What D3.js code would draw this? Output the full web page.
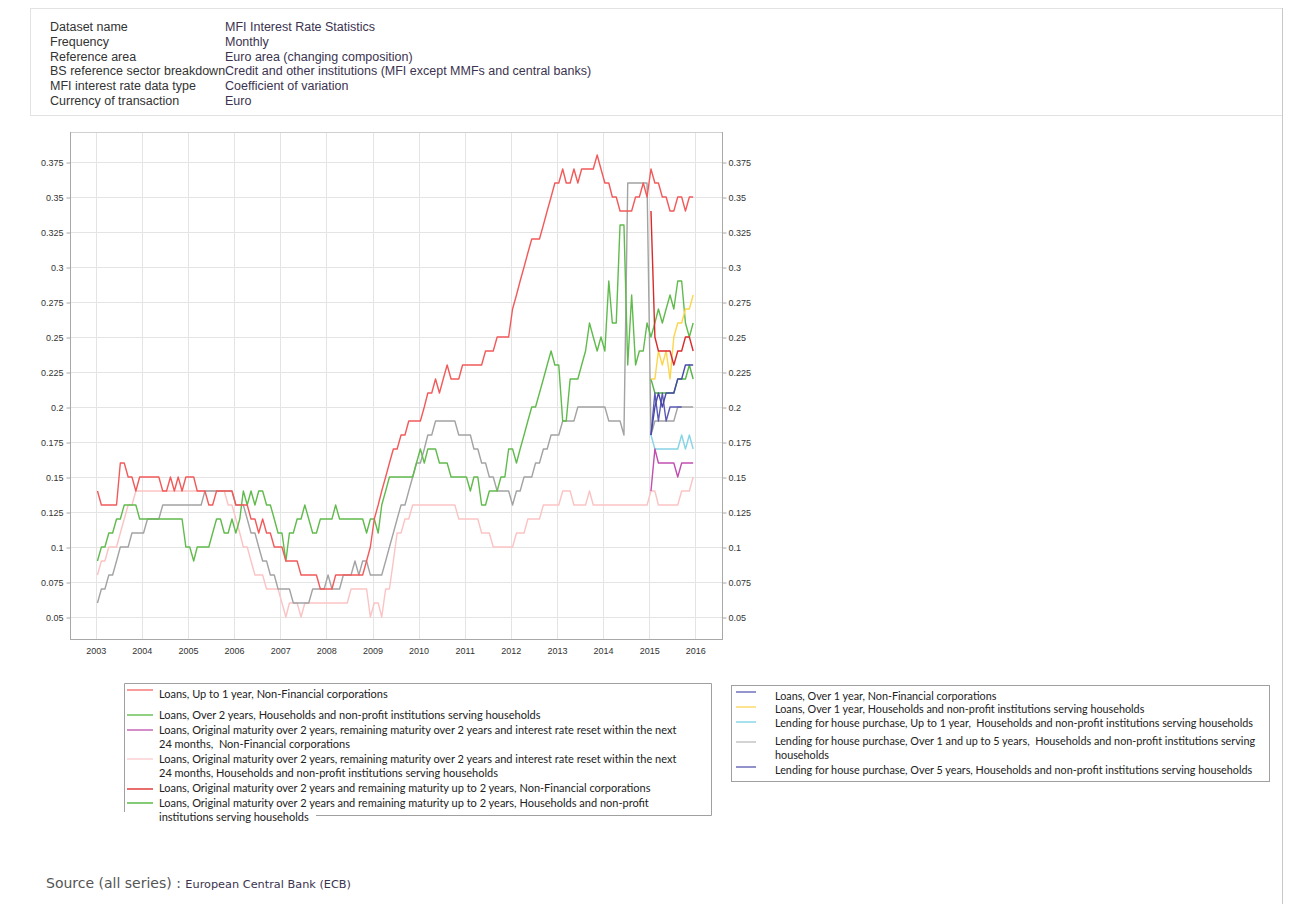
<!DOCTYPE html>
<html>
<head>
<meta charset="utf-8">
<script src="https://cdn.jsdelivr.net/npm/d3@7"></script>
<style>
  body { margin: 0; background: #fff; }
  svg { display: block; }
  text { white-space: pre; }
</style>
</head>
<body>
<svg id="chart" width="1290" height="904"></svg>
<script>
// ---- data (monthly, coefficient of variation) ----
const metaLabels = ["Dataset name", "Frequency", "Reference area", "BS reference sector breakdown", "MFI interest rate data type", "Currency of transaction"];
const metaValues = ["MFI Interest Rate Statistics", "Monthly", "Euro area (changing composition)", "Credit and other institutions (MFI except MMFs and central banks)", "Coefficient of variation", "Euro"];

const xTickYears = [2003, 2004, 2005, 2006, 2007, 2008, 2009, 2010, 2011, 2012, 2013, 2014, 2015, 2016];
const yTicks = [0.05, 0.075, 0.1, 0.125, 0.15, 0.175, 0.2, 0.225, 0.25, 0.275, 0.3, 0.325, 0.35, 0.375];
const yTickLabels = ["0.05", "0.075", "0.1", "0.125", "0.15", "0.175", "0.2", "0.225", "0.25", "0.275", "0.3", "0.325", "0.35", "0.375"];

// long series start 2003-01
const loansUpTo1yNFC = [
  .14,.13,.13,.13,.13,.13,.16,.16,.15,.15,.14,.15,
  .15,.15,.15,.15,.15,.14,.14,.15,.14,.15,.14,.15,
  .15,.15,.14,.14,.14,.13,.13,.14,.14,.14,.14,.14,
  .13,.13,.13,.13,.12,.12,.11,.12,.11,.11,.10,.10,
  .10,.09,.09,.09,.09,.08,.08,.08,.08,.08,.07,.07,
  .07,.07,.08,.08,.08,.08,.08,.08,.08,.08,.09,.10,
  .12,.13,.14,.15,.16,.17,.17,.18,.18,.19,.19,.19,
  .19,.20,.21,.21,.22,.21,.22,.23,.22,.22,.22,.23,
  .23,.23,.23,.23,.23,.24,.24,.24,.25,.25,.25,.25,
  .27,.28,.29,.30,.31,.32,.32,.32,.33,.34,.35,.36,
  .36,.37,.36,.36,.37,.36,.37,.37,.37,.37,.38,.37,
  .36,.36,.35,.35,.34,.34,.34,.34,.35,.35,.36,.35,
  .37,.36,.36,.35,.35,.34,.34,.35,.35,.34,.35,.35];
const loansOver2yHH = [
  .09,.10,.10,.11,.11,.12,.12,.13,.13,.13,.13,.12,
  .12,.12,.12,.12,.12,.12,.12,.12,.12,.12,.12,.10,
  .10,.09,.10,.10,.10,.10,.11,.12,.12,.11,.11,.12,
  .11,.12,.14,.13,.14,.13,.14,.14,.13,.13,.12,.11,
  .11,.09,.11,.11,.12,.12,.13,.12,.11,.11,.12,.12,
  .12,.12,.13,.12,.12,.12,.12,.12,.12,.12,.11,.12,
  .12,.11,.13,.14,.15,.15,.15,.15,.15,.15,.15,.16,
  .17,.16,.17,.17,.17,.16,.16,.16,.15,.15,.15,.15,
  .15,.14,.15,.15,.13,.13,.14,.14,.14,.15,.15,.17,
  .17,.16,.17,.18,.19,.20,.20,.21,.22,.23,.24,.23,
  .23,.19,.19,.22,.22,.22,.23,.24,.26,.25,.24,.25,
  .24,.29,.26,.26,.33,.33,.23,.28,.23,.24,.24,.26,
  .25,.26,.27,.26,.27,.28,.27,.29,.29,.26,.25,.26];
const loansReset24mHH = [
  .08,.09,.09,.10,.10,.10,.11,.12,.13,.13,.14,.14,
  .14,.14,.14,.14,.14,.14,.14,.14,.14,.14,.14,.14,
  .14,.14,.14,.14,.14,.14,.14,.14,.14,.14,.13,.13,
  .12,.11,.10,.10,.09,.08,.08,.08,.07,.07,.07,.07,
  .06,.05,.06,.06,.06,.05,.06,.06,.06,.06,.06,.06,
  .06,.06,.06,.06,.06,.06,.07,.07,.07,.07,.07,.05,
  .06,.06,.05,.07,.07,.09,.11,.11,.12,.12,.13,.13,
  .13,.13,.13,.13,.13,.13,.13,.13,.13,.13,.12,.12,
  .12,.12,.12,.12,.11,.11,.11,.10,.10,.10,.10,.10,
  .10,.11,.11,.11,.12,.12,.12,.12,.13,.13,.13,.13,
  .13,.14,.14,.14,.13,.13,.13,.13,.14,.13,.13,.13,
  .13,.13,.13,.13,.13,.13,.13,.13,.13,.13,.13,.13,
  .14,.14,.13,.13,.13,.13,.13,.13,.14,.14,.14,.15];
const housePurch1to5y = [
  .06,.07,.07,.08,.08,.09,.10,.10,.10,.11,.11,.11,
  .11,.12,.12,.12,.12,.13,.13,.13,.13,.13,.13,.13,
  .13,.13,.13,.13,.14,.14,.14,.14,.14,.14,.14,.14,
  .13,.13,.13,.12,.11,.11,.10,.09,.09,.08,.08,.07,
  .07,.07,.07,.06,.06,.06,.06,.06,.07,.07,.07,.07,
  .08,.07,.07,.07,.08,.08,.08,.09,.08,.09,.09,.08,
  .08,.08,.08,.09,.10,.11,.12,.13,.13,.14,.15,.16,
  .16,.17,.18,.18,.19,.19,.19,.19,.19,.19,.18,.18,
  .18,.18,.17,.17,.16,.16,.15,.15,.14,.14,.14,.14,
  .13,.14,.14,.15,.15,.15,.16,.16,.17,.17,.18,.18,
  .18,.19,.19,.19,.19,.20,.20,.20,.20,.20,.20,.20,
  .20,.19,.19,.19,.19,.18,.36,.36,.36,.36,.36,.36,
  .18,.19,.19,.19,.19,.19,.19,.20,.20,.20,.20,.20];

// short series start 2015-01
const loansReset24mNFC = [.14,.17,.16,.16,.16,.16,.16,.15,.16,.16,.16,.16];
const loansRemUpTo2yNFC = [.34,.25,.24,.24,.24,.24,.23,.24,.24,.25,.25,.24];
const loansRemUpTo2yHH = [.22,.21,.21,.21,.21,.21,.21,.22,.22,.22,.23,.22];
const loansOver1yNFC = [.18,.21,.19,.21,.19,.20,.20,.20,.20];
const loansOver1yHH = [.22,.22,.24,.23,.24,.22,.25,.26,.26,.27,.27,.28];
const housePurchUpTo1y = [.18,.17,.17,.17,.17,.17,.17,.17,.18,.17,.18,.17];
const housePurchOver5y = [.18,.20,.21,.20,.21,.21,.21,.22,.22,.23,.23,.23];

// draw order (back to front)
const series = [
  { values: loansReset24mHH, start: 2003, color: "#fbc3c3" },
  { values: housePurch1to5y, start: 2003, color: "#a3a3a3" },
  { values: loansOver2yHH, start: 2003, color: "#60bb4c" },
  { values: loansUpTo1yNFC, start: 2003, color: "#f25a5a" },
  { values: loansRemUpTo2yHH, start: 2015, color: "#54b544" },
  { values: loansOver1yHH, start: 2015, color: "#fdd54b" },
  { values: housePurchUpTo1y, start: 2015, color: "#86d4e8" },
  { values: loansReset24mNFC, start: 2015, color: "#c04fae" },
  { values: loansOver1yNFC, start: 2015, color: "#5a5ab4" },
  { values: housePurchOver5y, start: 2015, color: "#4848aa" },
  { values: loansRemUpTo2yNFC, start: 2015, color: "#d92b2b" }
];

const legend1 = [
  { color: "#f47a7a", lines: ["Loans, Up to 1 year, Non-Financial corporations"] },
  { color: "#6cc05a", lines: ["Loans, Over 2 years, Households and non-profit institutions serving households"] },
  { color: "#c766b9", lines: ["Loans, Original maturity over 2 years, remaining maturity over 2 years and interest rate reset within the next", "24 months,  Non-Financial corporations"] },
  { color: "#fbd0d0", lines: ["Loans, Original maturity over 2 years, remaining maturity over 2 years and interest rate reset within the next", "24 months, Households and non-profit institutions serving households"] },
  { color: "#e03c3c", lines: ["Loans, Original maturity over 2 years and remaining maturity up to 2 years, Non-Financial corporations"] },
  { color: "#5cba48", lines: ["Loans, Original maturity over 2 years and remaining maturity up to 2 years, Households and non-profit", "institutions serving households"] }
];
const legend2 = [
  { color: "#7272bc", lines: ["Loans, Over 1 year, Non-Financial corporations"] },
  { color: "#fdd86a", lines: ["Loans, Over 1 year, Households and non-profit institutions serving households"] },
  { color: "#8ad6ea", lines: ["Lending for house purchase, Up to 1 year,  Households and non-profit institutions serving households"] },
  { color: "#c4c4c4", lines: ["Lending for house purchase, Over 1 and up to 5 years,  Households and non-profit institutions serving", "households"] },
  { color: "#6d6dba", lines: ["Lending for house purchase, Over 5 years, Households and non-profit institutions serving households"] }
];

// ---- drawing ----
const svg = d3.select("#chart");
const plot = { left: 70, right: 722, top: 132, bottom: 639 };

// header box
svg.append("rect").attr("x", 30.5).attr("y", 8.5).attr("width", 1252).attr("height", 107)
  .attr("fill", "none").attr("stroke", "#e2e2e2");
svg.append("line").attr("x1", 1282.5).attr("x2", 1282.5).attr("y1", 8).attr("y2", 904)
  .attr("stroke", "#c8c8c8");

const meta = svg.append("g").attr("font-family", "Liberation Sans, Arial, sans-serif")
  .attr("font-size", 12.5);
meta.selectAll("text.lab").data(metaLabels).enter().append("text")
  .attr("class", "lab").attr("x", 50).attr("y", (d, i) => 31 + i * 14.8)
  .attr("fill", "#333").text(d => d);
meta.selectAll("text.val").data(metaValues).enter().append("text")
  .attr("class", "val").attr("x", 225).attr("y", (d, i) => 31 + i * 14.8)
  .attr("fill", "#3b3350").text(d => d);

const x = d3.scaleTime()
  .domain([new Date(2003, 0, 1), new Date(2016, 0, 1)])
  .range([95.7, 695.3]);
const y = d3.scaleLinear().domain([0.05, 0.375]).range([617, 162]);

const g = svg.append("g");

// grid
g.selectAll("line.vgrid").data(xTickYears).enter().append("line")
  .attr("class", "vgrid")
  .attr("x1", d => Math.round(x(new Date(d, 0, 1))) + 0.5)
  .attr("x2", d => Math.round(x(new Date(d, 0, 1))) + 0.5)
  .attr("y1", plot.top).attr("y2", plot.bottom)
  .attr("stroke", "#e4e4e4");
g.selectAll("line.hgrid").data(yTicks).enter().append("line")
  .attr("class", "hgrid")
  .attr("x1", plot.left).attr("x2", plot.right)
  .attr("y1", d => Math.round(y(d)) + 0.5).attr("y2", d => Math.round(y(d)) + 0.5)
  .attr("stroke", "#e4e4e4");

// frame
g.append("line").attr("x1", plot.left).attr("x2", plot.right).attr("y1", plot.top + 0.5).attr("y2", plot.top + 0.5).attr("stroke", "#d0d0d0");
g.append("line").attr("x1", plot.left + 0.5).attr("x2", plot.left + 0.5).attr("y1", plot.top).attr("y2", plot.bottom).attr("stroke", "#a8a8a8");
g.append("line").attr("x1", plot.right + 0.5).attr("x2", plot.right + 0.5).attr("y1", plot.top).attr("y2", plot.bottom).attr("stroke", "#a8a8a8");
g.append("line").attr("x1", plot.left).attr("x2", plot.right + 1).attr("y1", plot.bottom + 0.5).attr("y2", plot.bottom + 0.5).attr("stroke", "#a8a8a8");

// axes
const axisFont = "Liberation Sans, Arial, sans-serif";
const yLeft = g.append("g").attr("transform", "translate(" + (plot.left + 0.5) + ",0.5)")
  .call(d3.axisLeft(y).tickValues(yTicks).tickFormat((d, i) => yTickLabels[i]).tickSize(4).tickPadding(3));
const yRight = g.append("g").attr("transform", "translate(" + (plot.right + 0.5) + ",0.5)")
  .call(d3.axisRight(y).tickValues(yTicks).tickFormat((d, i) => yTickLabels[i]).tickSize(4).tickPadding(2));
const xAxis = g.append("g").attr("transform", "translate(0," + (plot.bottom + 0.5) + ")")
  .call(d3.axisBottom(x).tickValues(xTickYears.map(v => new Date(v, 0, 1)))
    .tickFormat(d3.timeFormat("%Y")).tickSize(0).tickPadding(8));
[yLeft, yRight, xAxis].forEach(a => {
  a.select(".domain").remove();
  a.selectAll("line").attr("stroke", "#a8a8a8");
  a.selectAll("text").attr("font-family", axisFont).attr("font-size", 9).attr("fill", "#333");
});

// series lines
const line = d3.line()
  .x(d => x(d.date))
  .y(d => y(d.value));
series.forEach(s => {
  const pts = s.values.map((v, i) => ({ date: new Date(s.start, i, 15), value: v }));
  g.append("path").datum(pts)
    .attr("d", line)
    .attr("fill", "none")
    .attr("stroke", s.color)
    .attr("stroke-width", 1.4)
    .attr("stroke-linejoin", "round");
});

// legends
const legFont = "Lato, Carlito, Liberation Sans, sans-serif";

function drawLegend(items, box, opts) {
  const lg = svg.append("g").attr("font-family", legFont).attr("font-size", opts.size).attr("fill", "#222");
  let yy = box.y + opts.first;
  items.forEach((it, i) => {
    if (i > 0) yy += opts.steps[i - 1] + (items[i - 1].lines.length - 1) * opts.wrap;
    lg.append("line").attr("x1", box.x + opts.sx1).attr("x2", box.x + opts.sx2)
      .attr("y1", yy - opts.lifts[i]).attr("y2", yy - opts.lifts[i])
      .attr("stroke", it.color).attr("stroke-width", 1.5);
    it.lines.forEach((t, j) => {
      lg.append("text").attr("x", box.x + opts.tx).attr("y", yy + j * opts.wrap).text(t);
    });
  });
  return lg;
}

// legend 1 frame (bottom border starts after the last wrapped line)
const box1 = { x: 124, y: 683, w: 587, h: 132 };
svg.append("path")
  .attr("d", "M316," + (box1.y + box1.h + 0.5) + "H" + (box1.x + box1.w + 0.5) + "V" + (box1.y + 0.5) +
    "H" + (box1.x + 0.5) + "V" + (box1.y + box1.h - 3))
  .attr("fill", "none").attr("stroke", "#a0a0a0");
drawLegend(legend1, box1, { size: 11, first: 15, steps: [21, 15, 15, 15, 15], wrap: 14,
  lifts: [8, 4, 4, 4, 3, 4], sx1: 3, sx2: 29, tx: 35 });

const box2 = { x: 731, y: 685, w: 538, h: 96 };
svg.append("rect").attr("x", box2.x + 0.5).attr("y", box2.y + 0.5).attr("width", box2.w).attr("height", box2.h)
  .attr("fill", "none").attr("stroke", "#a0a0a0");
drawLegend(legend2, box2, { size: 10.8, first: 15, steps: [13, 14, 18, 15], wrap: 14,
  lifts: [8, 6, 5, 3, 7], sx1: 5, sx2: 25, tx: 44 });

// source line
const src = svg.append("text").attr("x", 46).attr("y", 888).attr("font-family", "DejaVu Sans, Verdana, sans-serif");
src.append("tspan").attr("font-size", 14).attr("fill", "#555").text("Source (all series) : ");
src.append("tspan").attr("font-size", 11.3).attr("fill", "#3b3350").text("European Central Bank (ECB)");
</script>
</body>
</html>
